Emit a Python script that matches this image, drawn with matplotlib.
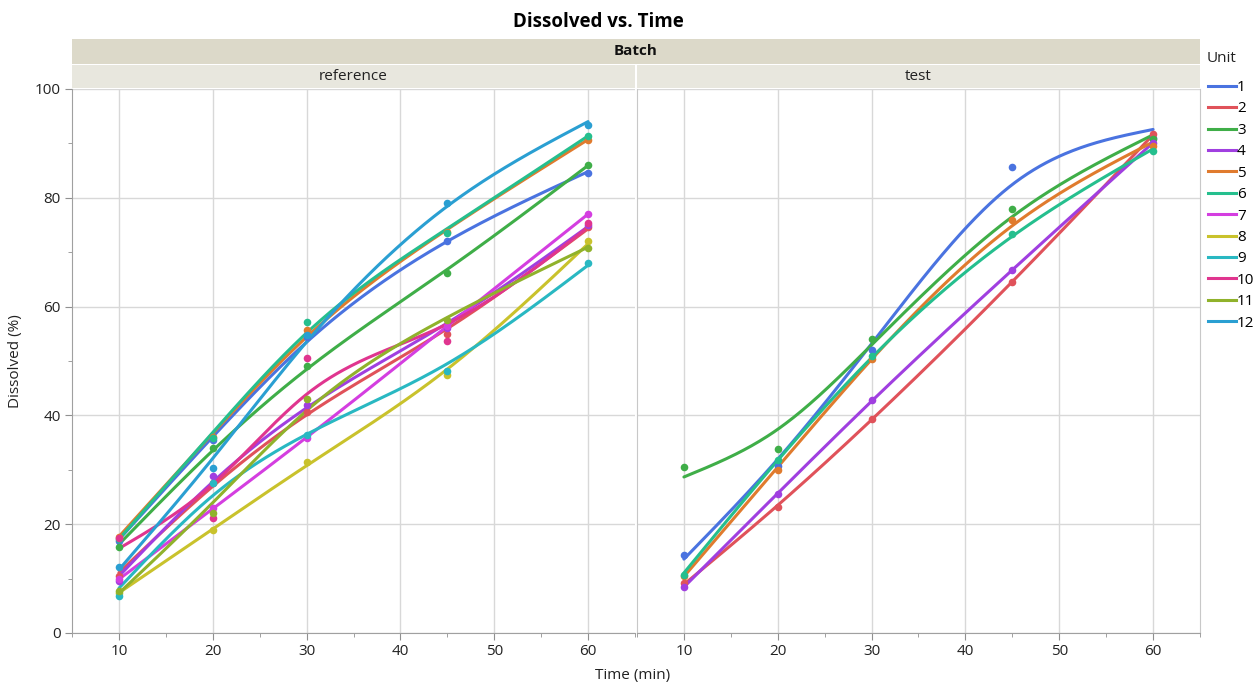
import numpy as np
import matplotlib
matplotlib.use("Agg")
import matplotlib.pyplot as plt
from matplotlib.lines import Line2D
from matplotlib.patches import Rectangle
from matplotlib.ticker import MultipleLocator

plt.rcParams['font.family'] = ['Open Sans', 'DejaVu Sans']

# --- data: % dissolved per unit at each sampling time ---
times = [10, 20, 30, 45, 60]

ref_units = [1, 2, 3, 4, 5, 6, 7, 8, 9, 10, 11, 12]
ref_u1 = [17.0, 35.5, 54.5, 72.0, 84.5]
ref_u2 = [10.5, 27.6, 40.7, 55.0, 74.6]
ref_u3 = [15.8, 34.0, 49.0, 66.2, 86.1]
ref_u4 = [9.6, 28.8, 41.9, 56.0, 75.0]
ref_u5 = [17.6, 36.0, 55.7, 73.8, 90.6]
ref_u6 = [17.2, 35.8, 57.1, 73.5, 91.4]
ref_u7 = [9.9, 22.9, 35.8, 56.5, 77.0]
ref_u8 = [7.4, 18.9, 31.5, 47.5, 72.0]
ref_u9 = [6.8, 27.6, 36.4, 48.2, 68.1]
ref_u10 = [17.4, 21.2, 50.6, 53.6, 75.4]
ref_u11 = [7.7, 22.0, 43.1, 57.5, 70.8]
ref_u12 = [12.1, 30.3, 54.8, 79.1, 93.4]

test_units = [1, 2, 3, 4, 5, 6]
test_u1 = [14.3, 30.7, 52.0, 85.7, 91.0]
test_u2 = [9.2, 23.1, 39.3, 64.5, 91.7]
test_u3 = [30.5, 33.8, 54.1, 77.9, 90.9]
test_u4 = [8.4, 25.6, 42.8, 66.7, 90.1]
test_u5 = [10.4, 30.0, 50.4, 75.9, 89.6]
test_u6 = [10.7, 31.8, 50.9, 73.3, 88.6]

ref_values = [ref_u1, ref_u2, ref_u3, ref_u4, ref_u5, ref_u6,
              ref_u7, ref_u8, ref_u9, ref_u10, ref_u11, ref_u12]
test_values = [test_u1, test_u2, test_u3, test_u4, test_u5, test_u6]

unit_colors = {
    1: '#4a73e0', 2: '#e0525a', 3: '#3fae48', 4: '#a03fe0',
    5: '#e07b2e', 6: '#25bf8e', 7: '#d43ee0', 8: '#c9c22c',
    9: '#29b8c2', 10: '#e0358f', 11: '#90b22b', 12: '#2a9fd2',
}

LAMBDA = 180.0


def smoothing_spline(x, y, lam, grid):
    # cubic smoothing spline (Reinsch form), natural end conditions
    x = np.asarray(x, float)
    y = np.asarray(y, float)
    n = len(x)
    h = np.diff(x)
    Q = np.zeros((n, n - 2))
    R = np.zeros((n - 2, n - 2))
    for j in range(1, n - 1):
        Q[j - 1, j - 1] = 1 / h[j - 1]
        Q[j, j - 1] = -1 / h[j - 1] - 1 / h[j]
        Q[j + 1, j - 1] = 1 / h[j]
        R[j - 1, j - 1] = (h[j - 1] + h[j]) / 3
        if j < n - 2:
            R[j - 1, j] = R[j, j - 1] = h[j] / 6
    gamma = np.linalg.solve(R + lam * Q.T @ Q, Q.T @ y)
    g = y - lam * Q @ gamma
    gam = np.concatenate([[0.0], gamma, [0.0]])
    idx = np.clip(np.searchsorted(x, grid) - 1, 0, n - 2)
    xl, xr = x[idx], x[idx + 1]
    hh = xr - xl
    a = grid - xl
    b = xr - grid
    return ((b * g[idx] + a * g[idx + 1]) / hh
            - a * b / 6 * ((1 + a / hh) * gam[idx + 1] + (1 + b / hh) * gam[idx]))


fig = plt.figure(figsize=(12.59, 6.82), dpi=100)
W, H = 1259, 682


def fx(px):
    return px / W


def fy(py):
    return 1 - py / H


ax_ref = fig.add_axes([fx(72), fy(633), fx(635 - 72), (633 - 89) / H])
ax_test = fig.add_axes([fx(637), fy(633), fx(1200 - 637), (633 - 89) / H])

grid_x = np.linspace(10, 60, 300)
for ax, units, values in [(ax_ref, ref_units, ref_values),
                          (ax_test, test_units, test_values)]:
    for u, vals in zip(units, values):
        c = unit_colors[u]
        ax.plot(grid_x, smoothing_spline(times, vals, LAMBDA, grid_x),
                color=c, lw=2.2, solid_capstyle='round', zorder=2)
    for u, vals in zip(units, values):
        ax.scatter(times, vals, s=30, color=unit_colors[u], zorder=3,
                   linewidths=0)

    ax.set_xlim(5, 65)
    ax.set_ylim(0, 100)
    ax.set_xticks([10, 20, 30, 40, 50, 60])
    ax.xaxis.set_minor_locator(MultipleLocator(5))
    ax.set_yticks([0, 20, 40, 60, 80, 100])
    ax.yaxis.set_minor_locator(MultipleLocator(10))
    ax.grid(True, which='major', color='#d8d8d8', lw=1)
    ax.set_axisbelow(True)
    ax.tick_params(which='major', length=5, color='#909090',
                   labelsize=11, labelcolor='#222222', pad=3)
    ax.tick_params(which='minor', length=3, color='#909090')
    ax.spines['top'].set_visible(False)
    ax.spines['bottom'].set_color('#a0a0a0')
    ax.spines['left'].set_color('#c8c8c8')
    ax.spines['right'].set_color('#c8c8c8')

ax_ref.spines['left'].set_color('#a0a0a0')
ax_ref.spines['right'].set_visible(False)
ax_test.tick_params(axis='y', which='both', left=False, labelleft=False)

# strip headers
fig.add_artist(Rectangle((fx(72), fy(64)), fx(1200 - 72), (64 - 39) / H,
                         transform=fig.transFigure, facecolor='#dcd9c9',
                         edgecolor='none'))
fig.add_artist(Rectangle((fx(72), fy(88)), fx(635 - 72), (88 - 65) / H,
                         transform=fig.transFigure, facecolor='#e8e7de',
                         edgecolor='none'))
fig.add_artist(Rectangle((fx(637), fy(88)), fx(1200 - 637), (88 - 65) / H,
                         transform=fig.transFigure, facecolor='#e8e7de',
                         edgecolor='none'))
fig.text(fx(636), fy(51), "Batch", ha='center', va='center',
         fontsize=11, fontweight='bold', color='#111111')
fig.text(fx(353), fy(76), "reference", ha='center', va='center',
         fontsize=11, color='#222222')
fig.text(fx(918), fy(76), "test", ha='center', va='center',
         fontsize=11, color='#222222')

fig.text(fx(598), fy(22), "Dissolved vs. Time", ha='center', va='center',
         fontsize=13.5, fontweight='bold', color='#000000')
fig.text(fx(633), fy(675), "Time (min)", ha='center', va='center',
         fontsize=11, color='#222222')
fig.text(fx(16), fy(361), "Dissolved (%)", ha='center', va='center',
         rotation=90, fontsize=11, color='#222222')

# legend
fig.text(fx(1207), fy(59), "Unit", ha='left', va='center', fontsize=11,
         color='#222222')
handles = [Line2D([], [], color=unit_colors[u], lw=2.2) for u in ref_units]
fig.legend(handles, [str(u) for u in ref_units], loc='upper left',
           bbox_to_anchor=(fx(1205), fy(77)), frameon=False, fontsize=11,
           handlelength=1.8, handletextpad=0.1, labelspacing=0.42,
           borderpad=0.2, borderaxespad=0)

fig.savefig("out.png", dpi=100)
plt.close(fig)
